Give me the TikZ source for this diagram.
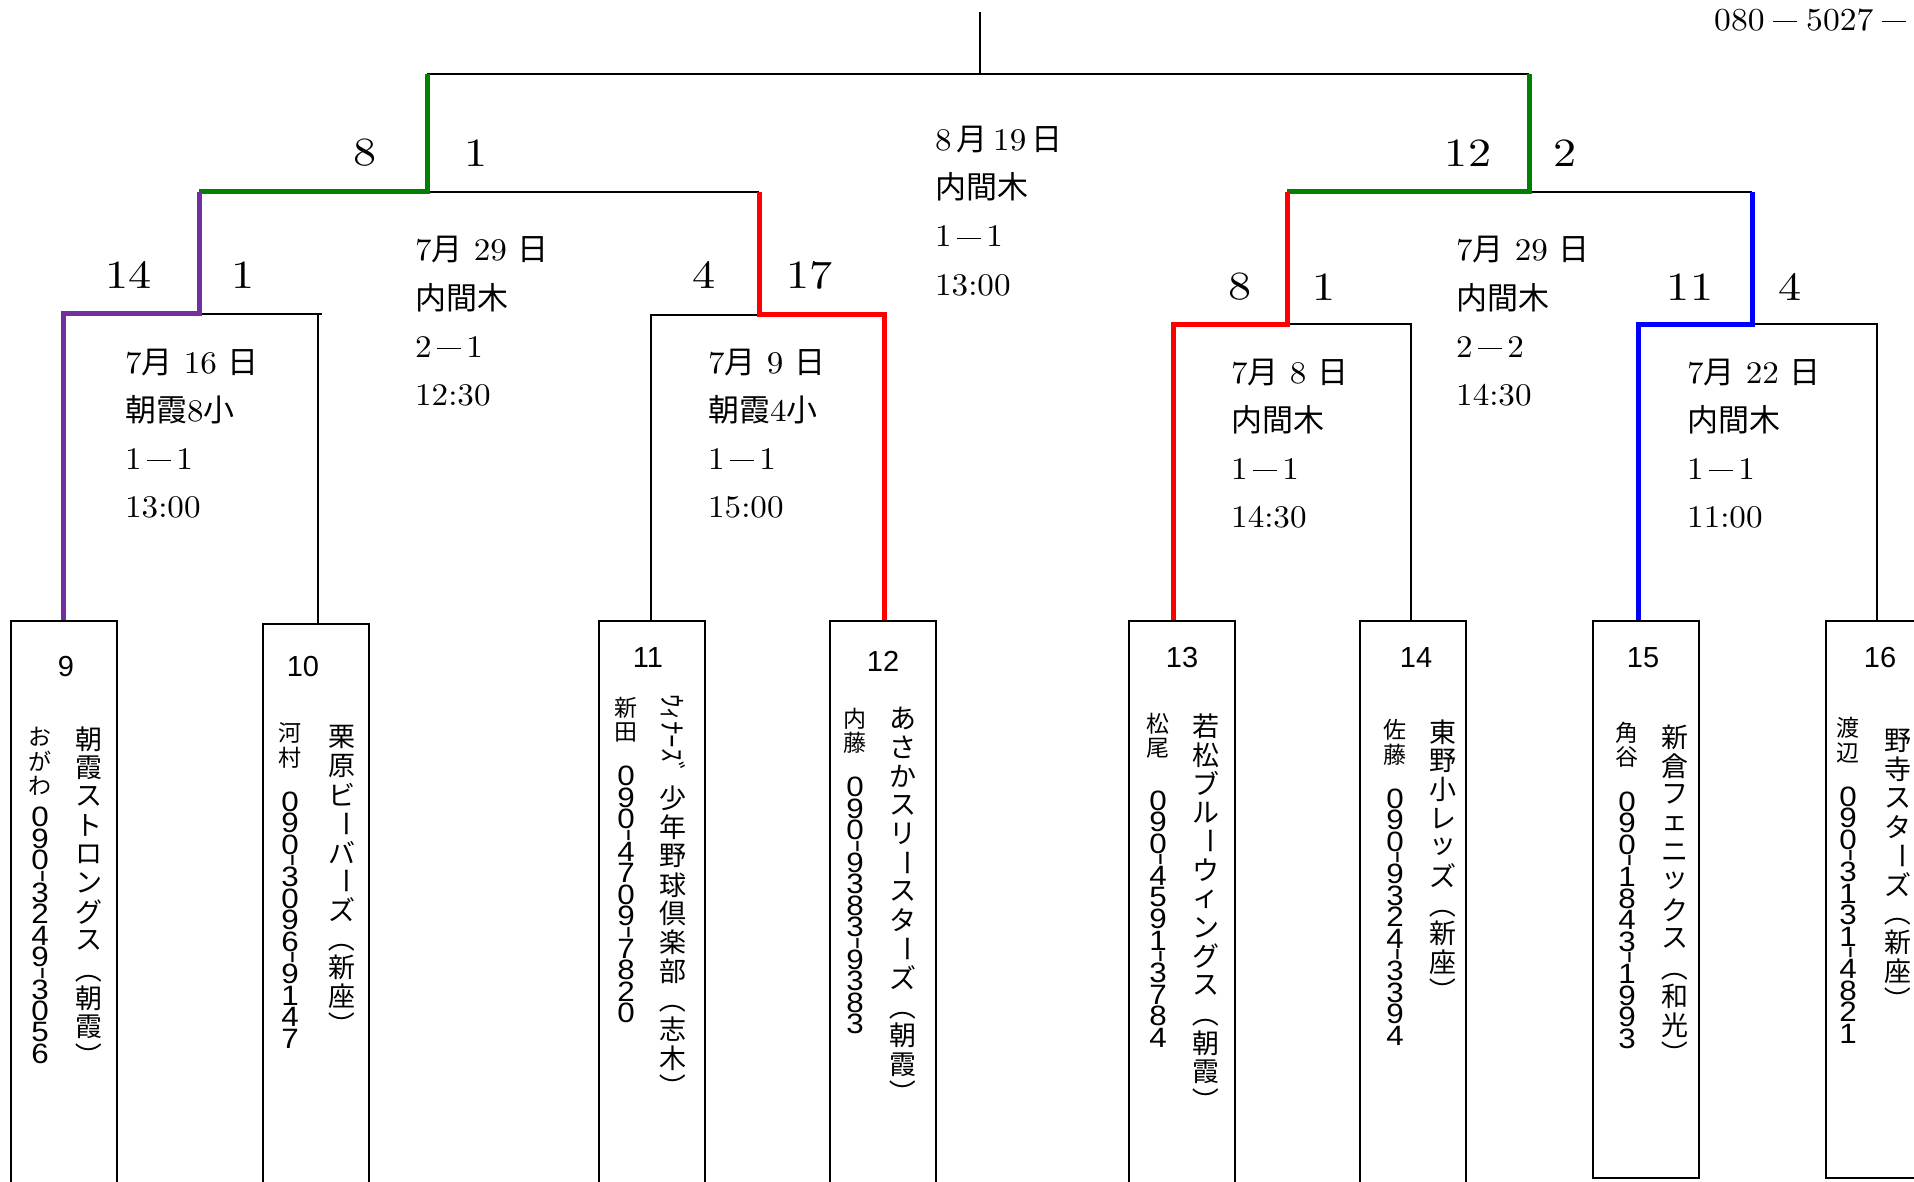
\documentclass[tikz,border=0pt]{standalone}
\usepackage{fontspec}
\usepackage{graphicx}
\setmainfont{lmroman10-regular.otf}[FakeStretch=1.05]
\newfontfamily\jpfont{Noto Sans CJK JP}
\newfontfamily\arialfont{Liberation Sans}
\definecolor{bgreen}{HTML}{008000}
\definecolor{bpurple}{HTML}{7030A0}
\definecolor{bred}{HTML}{FF0000}
\definecolor{bblue}{HTML}{0000FF}
\newcommand\JP[1]{{\jpfont\fontsize{31}{31}\selectfont #1}}
\newcommand\fd[1][1.1]{\hbox to #1em{\hss\rule[0.25em]{0.75em}{0.05em}\hss}}
% vertical column machinery
\newdimen\bkC \newdimen\bkD \newdimen\bkH \newdimen\bkG \newdimen\bkS
\def\bkcjk{\jpfont}
\def\bkdig{\arialfont}
\def\bkcell#1#2{\vbox to #1{\vss\hbox to 0pt{\hss#2\hss}\vss}}
\def\bkchar#1{%
 \ifx#1-\bkcell\bkH{\bkdig\rotatebox{-90}{\scalebox{1.5}[1]{-}}}\else
 \ifx#1ー\bkcell\bkC{\bkcjk\rotatebox{-90}{ー}}\else
 \ifx#1（\bkcell\bkC{\bkcjk\rotatebox{-90}{（}}\else
 \ifx#1）\bkcell\bkC{\bkcjk\rotatebox{-90}{）}}\else
 \ifx#1~\vbox to\bkG{}\else
 \ifx#1|\vbox to\bkS{}\else
 \ifnum`#1<128 \bkcell\bkD{\bkdig\scalebox{1.12}[1]{#1}}\else
 \bkcell\bkC{\bkcjk#1}%
 \fi\fi\fi\fi\fi\fi\fi}
\let\bkend\relax
\def\bkloop#1{\ifx#1\bkend\else\bkchar#1\expandafter\bkloop\fi}
\newcommand\bkcol[1]{\vbox{\offinterlineskip\bkloop#1\bkend}}
\newcommand\namesetup{\bkC=28.8pt\relax\def\bkcjk{\jpfont\fontsize{27}{28}\selectfont}}
\newcommand\perssetup{\bkC=24.5pt\relax\bkD=21.5pt\relax\bkH=11pt\relax\bkG=21pt\relax\bkS=8pt\relax
 \def\bkcjk{\jpfont\fontsize{23}{24}\selectfont}\def\bkdig{\arialfont\fontsize{28}{28}\selectfont}}
\newcommand\infoblock[7]{%
  \node[info] (#1a) at (#2,#3+11) {#4};
  \node[info] (#1b) at (#2,#3+59) {#5};
  \node[info] (#1c) at (#2,#3+107) {#6};
  \node[info] (#1d) at (#2,#3+155) {#7};}
\tikzset{
  bline/.style={line width=2pt, black},
  win/.style={line width=5pt},
  teambox/.style={draw, line width=2pt, anchor=north, minimum width=106pt, inner sep=0pt},
  info/.style={anchor=base west, inner sep=0pt, font=\fontsize{31.5}{31.5}\selectfont},
  score/.style={inner sep=0pt, font=\fontsize{40}{40}\selectfont},
  boxnum/.style={inner sep=0pt, font=\arialfont\fontsize{29}{29}\selectfont},
  col/.style={anchor=north, inner sep=0pt}
}
\newcommand\scw[1]{\scalebox{1.1}[1]{#1}}
\begin{document}
\begin{tikzpicture}[x=1pt, y=-1pt]
\useasboundingbox (0,0) rectangle (1914,1182);
\clip (0,0) rectangle (1914,1182);
% team boxes
\node[teambox, minimum height=620pt] (t9)  at (64,620) {};
\node[teambox, minimum height=620pt] (t10) at (316,623) {};
\node[teambox, minimum height=620pt] (t11) at (652,620) {};
\node[teambox, minimum height=620pt] (t12) at (883,620) {};
\node[teambox, minimum height=620pt] (t13) at (1182,620) {};
\node[teambox, minimum height=620pt] (t14) at (1413,620) {};
\node[teambox, minimum height=557pt] (t15) at (1645.5,620) {};
\node[teambox, minimum height=557pt] (t16) at (1879,620) {};
% junctions
\coordinate (top) at (980,12);
\coordinate (F) at (980,74);
\coordinate (L1) at (427,74);
\coordinate (R1) at (1529,74);
\coordinate (L2) at (427,192);
\coordinate (R2) at (1529,192);
\coordinate (SLl) at (199,192);
\coordinate (SLr) at (759,192);
\coordinate (SRl) at (1287,192);
\coordinate (SRr) at (1752,192);
\coordinate (QAm) at (199,314);
\coordinate (QAl) at (63,314);
\coordinate (QAr) at (318,314);
\coordinate (QAe) at (322,314);
\coordinate (QBm) at (759,315);
\coordinate (QBl) at (651,315);
\coordinate (QBr) at (884,315);
\coordinate (QCm) at (1287,324);
\coordinate (QCl) at (1173,324);
\coordinate (QCr) at (1411,324);
\coordinate (QDm) at (1752,324);
\coordinate (QDl) at (1638,324);
\coordinate (QDr) at (1877,324);
% black lines
\draw[bline] (top) -- (F);
\draw[bline] (L1) -- (R1);
\draw[bline] (L2) -- (SLr);
\draw[bline] (R2) -- (SRr);
\draw[bline] (QAm) -- (QAe);
\draw[bline] (QAr) -- (QAr |- t10.north);
\draw[bline] (QBm) -- (QBl) -- (QBl |- t11.north);
\draw[bline] (QCm) -- (QCr) -- (QCr |- t14.north);
\draw[bline] (QDm) -- (QDr) -- (QDr |- t16.north);
% winners
\draw[win, bgreen] (L1) -- (L2) -- (SLl);
\draw[win, bgreen] (R1) -- (R2) -- (SRl);
\draw[win, bpurple] (SLl) -- (QAm) -- (QAl) -- (QAl |- t9.north);
\draw[win, bred] (SLr) -- (QBm) -- (QBr) -- (QBr |- t12.north);
\draw[win, bred] (SRl) -- (QCm) -- (QCl) -- (QCl |- t13.north);
\draw[win, bblue] (SRr) -- (QDm) -- (QDl) -- (QDl |- t15.north);
% scores
\node[score] (s1) at (365,153) {\scw{8}};
\node[score] (s2) at (476,153) {\scw{1}};
\node[score] (s3) at (1468,153) {\scw{12}};
\node[score] (s4) at (1565,153) {\scw{2}};
\node[score] (s5) at (128.5,275) {\scw{14}};
\node[score] (s6) at (243.5,275) {\scw{1}};
\node[score] (s7) at (704,275) {\scw{4}};
\node[score] (s8) at (809.5,275) {\scw{17}};
\node[score] (s9) at (1240,287) {\scw{8}};
\node[score] (s10) at (1324,287) {\scw{1}};
\node[score] (s11) at (1690,287) {\scw{11}};
\node[score] (s12) at (1790,287) {\scw{4}};
% match info
\infoblock{c}{935}{140}{8\,\JP{月}\,19\,\JP{日}}{\JP{内間木}}{1\fd1}{13:00}
\infoblock{l}{415}{250}{7\JP{月} 29 \JP{日}}{\JP{内間木}}{2\fd1}{12:30}
\infoblock{r}{1456}{250}{7\JP{月} 29 \JP{日}}{\JP{内間木}}{2\fd2}{14:30}
\infoblock{qa}{125}{362}{7\JP{月} 16 \JP{日}}{\JP{朝霞}8\JP{小}}{1\fd1}{13:00}
\infoblock{qb}{708}{362}{7\JP{月} 9 \JP{日}}{\JP{朝霞}4\JP{小}}{1\fd1}{15:00}
\infoblock{qc}{1231}{372}{7\JP{月} 8 \JP{日}}{\JP{内間木}}{1\fd1}{14:30}
\infoblock{qd}{1687}{372}{7\JP{月} 22 \JP{日}}{\JP{内間木}}{1\fd1}{11:00}
% phone at top right
\node[anchor=base west, inner sep=0pt, font=\fontsize{32}{32}\selectfont] (ph) at (1714,30.5) {080\fd[1.3]5027\fd[1.3]};
% box numbers
\node[boxnum] (b9) at (66,667) {9};
\node[boxnum] (b10) at (303,667) {10};
\node[boxnum] (b11) at (648,657.5) {11};
\node[boxnum] (b12) at (883,661) {12};
\node[boxnum] (b13) at (1182,657.5) {13};
\node[boxnum] (b14) at (1416,657.5) {14};
\node[boxnum] (b15) at (1643,657.5) {15};
\node[boxnum] (b16) at (1880,657.5) {16};
% team names
\node[col] (n9) at (89,724.5) {\namesetup\bkcol{朝霞ストロングス（朝霞）}};
\node[col] (n10) at (342,722.5) {\namesetup\bkcol{栗原ビーバーズ（新座）}};
\node[col] (n11a) at (673,694) {\rotatebox{-90}{\jpfont\fontsize{27}{27}\selectfont ｳｨﾅｰｽﾞ}};
\node[col] (n11) at (673,784) {\namesetup\bkcol{少年野球倶楽部（志木）}};
\node[col] (n12) at (903,704.3) {\namesetup\bkcol{あさかスリースターズ（朝霞）}};
\node[col] (n13) at (1206,711.5) {\namesetup\bkcol{若松ブルーウィングス（朝霞）}};
\node[col] (n14) at (1443,717.3) {\namesetup\bkcol{東野小レッズ（新座）}};
\node[col] (n15) at (1675,722.5) {\namesetup\bkcol{新倉フェニックス（和光）}};
\node[col] (n16) at (1898,726) {\namesetup\bkcol{野寺スターズ（新座）}};
% contacts
\node[col] (p9) at (40,724.5) {\perssetup\bkcol{おがわ|090-3249-3056}};
\node[col] (p10) at (290,720.5) {\perssetup\bkcol{河村~090-3096-9147}};
\node[col] (p11) at (626,695) {\perssetup\bkcol{新田~090-4709-7820}};
\node[col] (p12) at (855,706) {\perssetup\bkcol{内藤~090-9383-9383}};
\node[col] (p13) at (1158,711.5) {\perssetup\bkcol{松尾~|090-4591-3784}};
\node[col] (p14) at (1395,717.5) {\perssetup\bkcol{佐藤~090-9324-3394}};
\node[col] (p15) at (1627,720.5) {\perssetup\bkcol{角谷~090-1843-1993}};
\node[col] (p16) at (1848,715.5) {\perssetup\bkcol{渡辺~090-3131-4821}};
\end{tikzpicture}
\end{document}
